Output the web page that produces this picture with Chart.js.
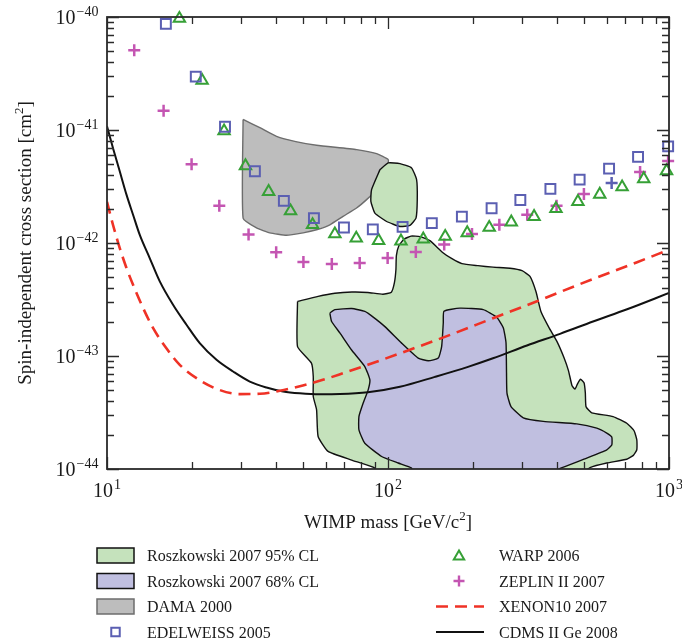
<!DOCTYPE html>
<html>
<head>
<meta charset="utf-8">
<title>Spin-independent WIMP cross section limits</title>
<script src="https://cdn.jsdelivr.net/npm/chart.js@4.4.1/dist/chart.umd.min.js"></script>
<style>
    html, body { margin: 0; padding: 0; background: #fff; }
    canvas { display: block; }
</style>
</head>
<body>
<canvas id="limitsChart" width="682" height="643"></canvas>
<script>
/**
 * WIMP exclusion limits / allowed regions
 * mass in GeV/c^2, cross section in cm^2
 */

// EDELWEISS 2005 (squares)
const edelweissMass  = [16.2, 20.7, 26.3, 33.6, 42.6, 54.5, 69.7, 88.3, 112.7, 143.2, 183.2, 233.7, 295.8, 378.4, 480.8, 612, 776, 993];
const edelweissSigma = [8.7e-41, 2.97e-41, 1.07e-41, 4.31e-42, 2.36e-42, 1.66e-42, 1.37e-42, 1.32e-42, 1.39e-42, 1.50e-42, 1.71e-42, 2.03e-42, 2.40e-42, 3.01e-42, 3.64e-42, 4.55e-42, 5.78e-42, 7.17e-42];

// WARP 2006 (triangles)
const warpMass  = [18.1, 21.8, 26.1, 31.1, 37.6, 45.0, 53.9, 64.7, 77.1, 92.6, 111.2, 133.5, 159.8, 191.4, 229.2, 274.6, 331, 396, 474, 567, 681, 813, 980];
const warpSigma = [9.7e-41, 2.74e-41, 9.8e-42, 4.81e-42, 2.85e-42, 1.92e-42, 1.45e-42, 1.20e-42, 1.10e-42, 1.05e-42, 1.04e-42, 1.08e-42, 1.14e-42, 1.23e-42, 1.37e-42, 1.53e-42, 1.71e-42, 2.01e-42, 2.32e-42, 2.69e-42, 3.13e-42, 3.69e-42, 4.34e-42];

// ZEPLIN II 2007 (plus signs)
const zeplinMass  = [12.5, 15.9, 20.0, 25.1, 31.9, 40.0, 50.0, 63.1, 79.3, 99.7, 125.6, 158.5, 199, 249, 313, 398, 498, 625, 789, 993];
const zeplinSigma = [5.08e-41, 1.48e-41, 4.97e-42, 2.14e-42, 1.19e-42, 8.29e-43, 6.79e-43, 6.52e-43, 6.65e-43, 7.37e-43, 8.32e-43, 9.72e-43, 1.20e-42, 1.45e-42, 1.78e-42, 2.14e-42, 2.72e-42, 3.40e-42, 4.26e-42, 5.33e-42];

// XENON10 2007 (dashed curve)
const xenonMass  = [10.0, 10.5, 11.1, 11.73, 12.38, 13.44, 14.58, 16.27, 18.15, 20.82, 24.53, 29.70, 34.99, 41.21, 49.77, 58.65, 69.1, 84.8, 117.8, 168.9, 236.4, 339.1, 470.7, 769.9, 1000];
const xenonSigma = [2.31e-42, 1.45e-42, 9.03e-43, 6.01e-43, 4.27e-43, 2.66e-43, 1.77e-43, 1.17e-43, 8.36e-44, 6.37e-44, 5.12e-44, 4.60e-44, 4.63e-44, 4.92e-44, 5.48e-44, 6.15e-44, 7.03e-44, 8.36e-44, 1.12e-43, 1.56e-43, 2.16e-43, 3.05e-43, 4.23e-43, 6.76e-43, 8.72e-43];

// CDMS II Ge 2008 (solid curve)
const cdmsMass  = [10.0, 10.5, 11.1, 11.73, 12.38, 13.08, 14.19, 15.41, 17.18, 19.18, 21.38, 24.53, 28.10, 32.23, 36.95, 42.35, 48.56, 57.2, 67.4, 84.8, 110.3, 146.9, 192.6, 236.4, 312.3, 409.5, 536.6, 709.3, 1000];
const cdmsSigma = [1.08e-41, 6.94e-42, 4.31e-42, 2.68e-42, 1.78e-42, 1.18e-42, 7.36e-43, 4.57e-43, 2.84e-43, 1.89e-43, 1.30e-43, 9.25e-44, 7.29e-44, 5.94e-44, 5.26e-44, 4.85e-44, 4.67e-44, 4.58e-44, 4.60e-44, 4.77e-44, 5.34e-44, 6.54e-44, 8.02e-44, 9.54e-44, 1.24e-43, 1.57e-43, 2.02e-43, 2.59e-43, 3.61e-43];

// DAMA 2000 region outline
const damaMass  = [30.5, 34.99, 40.11, 46.99, 55.68, 77.3, 91.1, 100.2, 99.7, 96.1, 91.1, 83.9, 77.3, 69.2, 62.1, 55.68, 49.9, 43.5, 37.96, 34.05, 30.5, 30.5];
const damaSigma = [1.24e-41, 1.05e-41, 8.79e-42, 7.89e-42, 7.32e-42, 6.71e-42, 6.18e-42, 5.47e-42, 4.77e-42, 3.89e-42, 2.97e-42, 2.42e-42, 2.04e-42, 1.72e-42, 1.45e-42, 1.31e-42, 1.23e-42, 1.17e-42, 1.23e-42, 1.36e-42, 1.66e-42, 1.24e-41];

// Roszkowski 2007 95% CL, small upper island
const r95IslandMass  = [93.6, 100.2, 110.3, 121.3, 126.4, 127.1, 125.8, 119.7, 110.3, 98.9, 89.8, 86.9, 87.4, 93.6];
const r95IslandSigma = [4.46e-42, 5.11e-42, 5.04e-42, 4.62e-42, 3.64e-42, 2.42e-42, 1.66e-42, 1.43e-42, 1.40e-42, 1.55e-42, 1.84e-42, 2.34e-42, 2.97e-42, 4.46e-42];

// Roszkowski 2007 95% CL, main region
const r95Mass  = [47.65, 56.4, 64.7, 74.4, 84.8, 95.9, 102.8, 105.4, 106.7, 107.1, 109.3, 114.0, 120.7, 129.9, 141.0, 156.9, 168.9, 183.3, 209.0, 236.4, 271.8, 299.9, 320.1, 336.3, 350.4, 374.1, 399.5, 423.1, 439.0, 451.8, 463.0, 472.6, 484.4, 498.4, 503.8, 506.7, 531.0, 632.3, 707.5, 751.1, 768.2, 768.2, 746.8, 707.5, 600.6, 523.6, 482.4, 89.8, 89.8, 74.2, 61.2, 56.4, 55.7, 54.2, 54.2, 53.4, 47.65, 47.65];
const r95Sigma = [3.04e-43, 3.37e-43, 3.59e-43, 3.68e-43, 3.65e-43, 3.52e-43, 3.67e-43, 4.45e-43, 5.80e-43, 7.72e-43, 9.46e-43, 1.08e-42, 1.15e-42, 1.14e-42, 1.05e-42, 8.20e-43, 7.26e-43, 6.56e-43, 6.30e-43, 6.11e-43, 5.98e-43, 5.69e-43, 5.06e-43, 3.70e-43, 2.46e-43, 1.78e-43, 1.34e-43, 9.64e-44, 7.39e-44, 5.45e-44, 5.09e-44, 5.67e-44, 6.22e-44, 5.79e-44, 4.72e-44, 3.55e-44, 3.14e-44, 2.91e-44, 2.54e-44, 2.18e-44, 1.81e-44, 1.48e-44, 1.32e-44, 1.22e-44, 1.13e-44, 1.03e-44, 9e-45, 9e-45, 1.02e-44, 1.20e-44, 1.43e-44, 1.94e-44, 3.34e-44, 4.38e-44, 6.58e-44, 8.65e-44, 1.21e-43, 3.04e-43];

// Roszkowski 2007 68% CL region
const r68Mass  = [62.1, 64.7, 74.2, 82.7, 88.6, 97.5, 111.8, 128.1, 139.1, 151.0, 155.2, 157.3, 158.2, 180.3, 218.3, 243.7, 257.2, 263.0, 264.1, 265.1, 274.0, 303.0, 357.0, 469.6, 553.4, 600.6, 625.7, 625.7, 600.6, 509.6, 409.5, 377.2, 121.7, 121.3, 108.7, 94.9, 82.7, 78.8, 78.8, 81.6, 85.0, 86.2, 82.7, 74.2, 67.4, 63.0, 62.1];
const r68Sigma = [2.40e-43, 2.57e-43, 2.63e-43, 2.48e-43, 2.21e-43, 1.82e-43, 1.30e-43, 9.58e-44, 9.07e-44, 9.58e-44, 1.21e-43, 1.96e-43, 2.49e-43, 2.65e-43, 2.57e-43, 2.20e-43, 1.78e-43, 1.31e-43, 7.10e-44, 4.69e-44, 3.57e-44, 2.84e-44, 2.64e-44, 2.51e-44, 2.30e-44, 2.08e-44, 1.92e-44, 1.63e-44, 1.48e-44, 1.25e-44, 1.01e-44, 9e-45, 9e-45, 1.02e-44, 1.13e-44, 1.29e-44, 1.69e-44, 2.22e-44, 2.91e-44, 3.83e-44, 5.02e-44, 6.15e-44, 8.07e-44, 1.13e-43, 1.60e-43, 2.02e-43, 2.40e-43];

// axis decades and legend texts
const xTickExponents = [1, 2, 3];
const yTickExponents = [-40, -41, -42, -43, -44];
const legendLeftLabels  = ['Roszkowski 2007 95% CL', 'Roszkowski 2007 68% CL', 'DAMA 2000', 'EDELWEISS 2005'];
const legendRightLabels = ['WARP 2006', 'ZEPLIN II 2007', 'XENON10 2007', 'CDMS II Ge 2008'];

const FONT = '"Liberation Serif", "Times New Roman", serif';
const INK = '#1a1a1a';
const COLORS = {
    green: '#c5e2bc',
    purple: '#c0bfe0',
    gray: '#bdbdbd',
    grayEdge: '#6d6d6d',
    square: '#5b5fb2',
    triangle: '#36a036',
    plus: '#c455b2',
    red: '#ef3226',
    black: '#111111'
};

function toPoints(xs, ys) {
    return xs.map((x, i) => ({ x: x, y: ys[i] }));
}

function regionDataset(label, xs, ys, fillColor, edgeColor, order) {
    return {
        label: label,
        data: toPoints(xs, ys),
        showLine: true,
        fill: 'shape',
        backgroundColor: fillColor,
        borderColor: edgeColor,
        borderWidth: 1.4,
        pointRadius: 0,
        tension: 0.15,
        clip: 0,
        order: order
    };
}

function markerDataset(label, xs, ys, style, radius, color, width) {
    return {
        label: label,
        data: toPoints(xs, ys),
        showLine: false,
        pointStyle: style,
        pointRadius: radius,
        pointBorderWidth: width,
        pointBorderColor: color,
        pointBackgroundColor: 'rgba(0,0,0,0)',
        clip: false,
        order: 1
    };
}

// "10" with a raised exponent, y = baseline of the "10"
function drawPower(ctx, exp, x, y, align) {
    const sup = exp < 0 ? '\u2212' + Math.abs(exp) : String(exp);
    ctx.font = '20px ' + FONT;
    const wb = ctx.measureText('10').width;
    ctx.font = '14px ' + FONT;
    const ws = ctx.measureText(sup).width;
    const total = wb + 1 + ws;
    const left = align === 'right' ? x - total : x - total / 2;
    ctx.textAlign = 'left';
    ctx.textBaseline = 'alphabetic';
    ctx.font = '20px ' + FONT;
    ctx.fillText('10', left, y);
    ctx.font = '14px ' + FONT;
    ctx.fillText(sup, left + wb + 1, y - 8.5);
}

// text with one superscript part, centred on x
function drawSupText(ctx, before, sup, after, x, y, size) {
    const supSize = Math.round(size * 0.68);
    ctx.font = size + 'px ' + FONT;
    const w1 = ctx.measureText(before).width;
    const w3 = ctx.measureText(after).width;
    ctx.font = supSize + 'px ' + FONT;
    const w2 = ctx.measureText(sup).width;
    let cx = x - (w1 + w2 + w3) / 2;
    ctx.textAlign = 'left';
    ctx.textBaseline = 'alphabetic';
    ctx.font = size + 'px ' + FONT;
    ctx.fillText(before, cx, y);
    cx += w1;
    ctx.font = supSize + 'px ' + FONT;
    ctx.fillText(sup, cx, y - size * 0.4);
    cx += w2;
    ctx.font = size + 'px ' + FONT;
    ctx.fillText(after, cx, y);
}

function decadeTicks(minExp, maxExp) {
    const out = [];
    for (let e = minExp; e < maxExp; e++) {
        for (let k = 1; k <= 9; k++) {
            out.push({ value: k * Math.pow(10, e), major: k === 1 });
        }
    }
    out.push({ value: Math.pow(10, maxExp), major: true });
    return out;
}

const axesPlugin = {
    id: 'framedAxes',
    afterDatasetsDraw(chart) {
        const { ctx, chartArea: a, scales } = chart;
        const xs = scales.x, ys = scales.y;
        ctx.save();

        // inward ticks on all four sides
        ctx.strokeStyle = '#2a2a2a';
        ctx.lineWidth = 1.3;
        ctx.beginPath();
        decadeTicks(1, 3).forEach(t => {
            const px = Math.round(xs.getPixelForValue(t.value)) + 0.5;
            const len = t.major ? 12 : 7;
            ctx.moveTo(px, a.bottom); ctx.lineTo(px, a.bottom - len);
            ctx.moveTo(px, a.top); ctx.lineTo(px, a.top + len);
        });
        decadeTicks(-44, -40).forEach(t => {
            const py = Math.round(ys.getPixelForValue(t.value)) + 0.5;
            const len = t.major ? 12 : 7;
            ctx.moveTo(a.left, py); ctx.lineTo(a.left + len, py);
            ctx.moveTo(a.right, py); ctx.lineTo(a.right - len, py);
        });
        ctx.stroke();

        // frame
        ctx.lineWidth = 1.8;
        ctx.strokeRect(a.left, a.top, a.right - a.left, a.bottom - a.top);

        // tick labels
        ctx.fillStyle = INK;
        xTickExponents.forEach(e => {
            drawPower(ctx, e, xs.getPixelForValue(Math.pow(10, e)), a.bottom + 28, 'center');
        });
        yTickExponents.forEach(e => {
            drawPower(ctx, e, a.left - 8.5, ys.getPixelForValue(Math.pow(10, e)) + 7, 'right');
        });

        // axis titles
        drawSupText(ctx, 'WIMP mass [GeV/c', '2', ']', (a.left + a.right) / 2, a.bottom + 59, 19);
        ctx.save();
        ctx.translate(31, (a.top + a.bottom) / 2);
        ctx.rotate(-Math.PI / 2);
        drawSupText(ctx, 'Spin-independent cross section [cm', '2', ']', 0, 0, 19);
        ctx.restore();

        ctx.restore();
    }
};

function drawMarker(ctx, style, x, y, r, color, width) {
    ctx.strokeStyle = color;
    ctx.lineWidth = width;
    ctx.beginPath();
    if (style === 'rect') {
        const h = r * Math.SQRT1_2;
        ctx.rect(x - h, y - h, 2 * h, 2 * h);
    } else if (style === 'triangle') {
        ctx.moveTo(x, y - r);
        ctx.lineTo(x + r * Math.sin(2 * Math.PI / 3), y - r * Math.cos(2 * Math.PI / 3));
        ctx.lineTo(x + r * Math.sin(4 * Math.PI / 3), y - r * Math.cos(4 * Math.PI / 3));
        ctx.closePath();
    } else {
        ctx.moveTo(x - r, y); ctx.lineTo(x + r, y);
        ctx.moveTo(x, y - r); ctx.lineTo(x, y + r);
    }
    ctx.stroke();
}

const legendPlugin = {
    id: 'twoColumnLegend',
    afterDraw(chart) {
        const ctx = chart.ctx;
        const rows = [555.5, 581, 606.5, 632];
        ctx.save();

        // left column: filled boxes + EDELWEISS marker
        const boxes = [
            [COLORS.green, COLORS.black],
            [COLORS.purple, COLORS.black],
            [COLORS.gray, COLORS.grayEdge]
        ];
        boxes.forEach((b, i) => {
            ctx.fillStyle = b[0];
            ctx.strokeStyle = b[1];
            ctx.lineWidth = 1.5;
            ctx.fillRect(97, rows[i] - 7.5, 37, 15);
            ctx.strokeRect(97, rows[i] - 7.5, 37, 15);
        });
        drawMarker(ctx, 'rect', 115.5, rows[3], 6, COLORS.square, 2);

        // right column: markers and line samples
        drawMarker(ctx, 'triangle', 459, rows[0] + 1, 6, COLORS.triangle, 2);
        drawMarker(ctx, 'cross', 459, rows[1], 5.5, COLORS.plus, 2.4);
        ctx.lineWidth = 2.5;
        ctx.strokeStyle = COLORS.red;
        ctx.setLineDash([12, 7]);
        ctx.beginPath();
        ctx.moveTo(436, rows[2]); ctx.lineTo(484, rows[2]);
        ctx.stroke();
        ctx.setLineDash([]);
        ctx.lineWidth = 2;
        ctx.strokeStyle = COLORS.black;
        ctx.beginPath();
        ctx.moveTo(436, rows[3]); ctx.lineTo(484, rows[3]);
        ctx.stroke();

        ctx.fillStyle = INK;
        ctx.font = '16px ' + FONT;
        ctx.textAlign = 'left';
        ctx.textBaseline = 'alphabetic';
        legendLeftLabels.forEach((t, i) => ctx.fillText(t, 147, rows[i] + 5.5));
        legendRightLabels.forEach((t, i) => ctx.fillText(t, 499, rows[i] + 5.5));
        ctx.restore();
    }
};

const datasets = [
    markerDataset('EDELWEISS 2005', edelweissMass, edelweissSigma, 'rect', 7, COLORS.square, 2),
    markerDataset('WARP 2006', warpMass, warpSigma, 'triangle', 6.6, COLORS.triangle, 2),
    Object.assign(markerDataset('ZEPLIN II 2007', zeplinMass, zeplinSigma, 'cross', 6, COLORS.plus, 2.5), {
        // one cross in the original is printed in the EDELWEISS colour
        pointBorderColor: ctx => ctx.dataIndex === 17 ? COLORS.square : COLORS.plus
    }),
    {
        label: 'XENON10 2007',
        data: toPoints(xenonMass, xenonSigma),
        showLine: true,
        borderColor: COLORS.red,
        borderWidth: 2.6,
        borderDash: [12, 7],
        pointRadius: 0,
        cubicInterpolationMode: 'monotone',
        fill: false,
        order: 2
    },
    {
        label: 'CDMS II Ge 2008',
        data: toPoints(cdmsMass, cdmsSigma),
        showLine: true,
        borderColor: COLORS.black,
        borderWidth: 2,
        pointRadius: 0,
        cubicInterpolationMode: 'monotone',
        fill: false,
        order: 2
    },
    regionDataset('Roszkowski 2007 68% CL', r68Mass, r68Sigma, COLORS.purple, COLORS.black, 3),
    regionDataset('Roszkowski 2007 95% CL', r95Mass, r95Sigma, COLORS.green, COLORS.black, 4),
    regionDataset('Roszkowski 2007 95% CL (island)', r95IslandMass, r95IslandSigma, COLORS.green, COLORS.black, 4),
    regionDataset('DAMA 2000', damaMass, damaSigma, COLORS.gray, COLORS.grayEdge, 5)
];

new Chart(document.getElementById('limitsChart'), {
    type: 'line',
    data: { datasets: datasets },
    options: {
        responsive: false,
        animation: false,
        events: [],
        layout: { padding: { left: 107, top: 17, right: 13, bottom: 174 } },
        elements: { line: { capBezierPoints: false } },
        plugins: {
            legend: { display: false },
            tooltip: { enabled: false }
        },
        scales: {
            x: { type: 'logarithmic', min: 10, max: 1000, display: false },
            y: { type: 'logarithmic', min: 1e-44, max: 1e-40, display: false }
        }
    },
    plugins: [axesPlugin, legendPlugin]
});
</script>
</body>
</html>
